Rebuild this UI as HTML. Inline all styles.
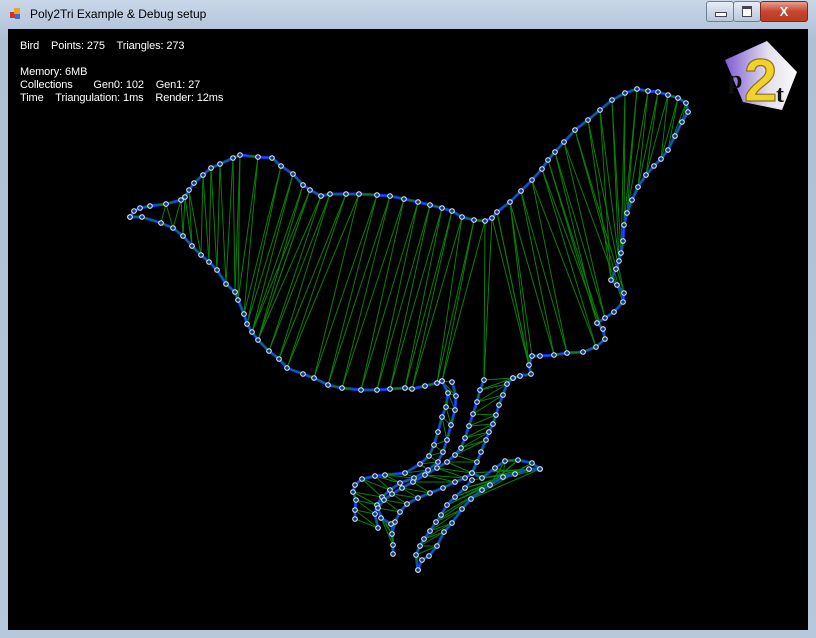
<!DOCTYPE html>
<html><head><meta charset="utf-8"><style>
html,body{margin:0;padding:0;width:816px;height:638px;overflow:hidden;background:#b9c9dd;font-family:"Liberation Sans",sans-serif}
#win{position:absolute;left:0;top:0;width:816px;height:638px;background:linear-gradient(#c9d7e8,#aebfd6 40px,#b7c7dc);}
#title{position:absolute;left:30px;top:7px;font-size:12px;color:#000}
#client{position:absolute;left:8px;top:29px;width:800px;height:601px;background:#000}
.info{position:absolute;color:#fff;font-size:11px;white-space:pre;left:12px;letter-spacing:-0.1px}
.btn{position:absolute;top:1px;height:19px;border:1px solid #6f7f94;border-radius:3px;background:linear-gradient(#e6edf6,#b9c8da)}
</style></head><body>
<div id="win">
<div style="position:absolute;left:10px;top:8px;width:11px;height:11px;"><div style="position:absolute;left:0;top:4px;width:6px;height:6px;background:#c33"></div><div style="position:absolute;left:4px;top:0;width:6px;height:6px;background:#e9a52a"></div><div style="position:absolute;left:5px;top:6px;width:5px;height:5px;background:#3a6fd0"></div></div>
<div id="title">Poly2Tri Example &amp; Debug setup</div>
<div class="btn" style="left:706px;width:26px"><div style="position:absolute;left:8px;top:10px;width:10px;height:3px;background:#fff;border:1px solid #445"></div></div>
<div class="btn" style="left:733px;width:26px"><div style="position:absolute;left:8px;top:4px;width:8px;height:7px;border:1px solid #445;border-top-width:3px;background:#fff"></div></div>
<div class="btn" style="left:760px;width:46px;background:linear-gradient(#e8a08e,#c7452f 50%,#b93a22);border-color:#7a2a20;color:#fff;font-weight:bold;font-size:13px;text-align:center;line-height:19px">X</div>
<div id="client">
<div class="info" style="top:11px">Bird    Points: 275    Triangles: 273</div>
<div class="info" style="top:37px">Memory: 6MB</div>
<div class="info" style="top:50px">Collections       Gen0: 102    Gen1: 27</div>
<div class="info" style="top:63px">Time    Triangulation: 1ms    Render: 12ms</div>
</div>
<svg id="svg" width="816" height="638" style="position:absolute;left:0;top:0">
<defs><linearGradient id="lg" x1="0" x2="1"><stop offset="0" stop-color="#7f5bd6"/><stop offset="0.6" stop-color="#e4e0ec"/><stop offset="1" stop-color="#fafafa"/></linearGradient></defs>
<g>
<polygon points="767,41 797,72 782,110 743,102 725,60" fill="url(#lg)"/>
<text x="744" y="101" font-family="Liberation Sans,sans-serif" font-size="60" font-weight="bold" fill="#f2d22a" stroke="#8a7420" stroke-width="1.2">2</text>
<text x="728" y="88" font-family="Liberation Serif,serif" font-size="26" font-weight="bold" fill="#111">p</text>
<text x="776" y="102" font-family="Liberation Serif,serif" font-size="24" font-weight="bold" fill="#111">t</text>
</g>
<g id="tri"></g><g id="out"></g><g id="pts"></g>
</svg>
</div>
<script>
const bodyTop=[[130,217],[134,211],[140,208],[150,206],[166,204],[181,200],[185,197],[189,190],[194,183],[203,175],[211,168],[220,164],[233,158],[240,155],[258,157],[272,158],[281,166],[293,174],[303,185],[310,190],[321,196],[330,194],[346,194],[359,194],[377,195],[390,196],[404,199],[418,202],[430,205],[442,208],[452,211],[462,217],[474,220],[485,221],[492,218],[497,212],[510,202],[521,191],[532,180],[542,169],[548,160],[555,152],[564,142],[575,130],[588,120],[600,110],[612,100],[625,93],[637,89],[648,91],[658,92],[668,95],[678,98],[686,103],[688,112],[682,122],[675,136],[668,150],[661,159],[654,166],[646,175],[638,187],[632,200],[627,213],[624,225],[623,241],[621,253],[619,261],[616,269],[611,280],[617,285],[624,293],[623,302],[614,312],[605,318],[597,323],[603,329],[605,339],[596,347],[583,352],[567,353],[554,355],[540,356],[532,356],[529,365],[531,374],[520,376],[513,378]];
const bodyBot=[[130,217],[142,217],[161,223],[173,228],[183,236],[192,246],[201,255],[209,262],[217,270],[226,284],[235,292],[238,300],[244,314],[247,324],[252,332],[258,340],[269,351],[279,359],[287,368],[303,374],[314,378],[328,385],[342,388],[361,390],[377,390],[390,389],[405,388],[412,389],[425,386],[437,383],[442,381]];
const legA1=[[442,381],[448,393],[446,407],[442,417],[438,432],[434,445],[429,456],[420,464],[405,473],[385,475],[375,476],[362,479],[355,485],[353,492],[356,500],[355,510],[355,519]];
const legA2=[[452,382],[456,396],[455,410],[451,425],[447,440],[443,452],[438,462],[428,470],[414,478],[400,483],[390,490],[382,497],[377,505],[375,514],[378,528]];
const legB1=[[513,378],[507,384],[503,395],[499,405],[496,415],[493,424],[489,432],[486,440],[481,452],[477,462],[472,473],[465,478],[455,482],[443,488],[430,493],[418,498],[407,504],[400,512],[395,522],[392,534],[393,545],[393,554]];
const legB2=[[484,380],[480,390],[477,402],[473,414],[469,426],[465,438],[461,448],[455,455],[447,462],[437,468],[425,475],[413,482],[402,488],[392,494],[384,500],[378,508],[381,518],[391,524]];
const legC1=[[472,473],[482,478],[495,468],[505,461],[518,460],[532,463],[540,469]];
const legC2=[[540,469],[529,469],[515,474],[503,477],[490,485],[482,490],[471,499],[462,509],[452,523],[444,532],[437,546],[429,556],[422,560],[418,570]];
const legC3=[[418,570],[416,555],[420,546],[424,539],[430,531],[436,522],[441,515],[447,505],[455,497],[465,488],[472,480]];
const svg='http://www.w3.org/2000/svg';
const T=document.getElementById('tri'),O=document.getElementById('out'),P=document.getElementById('pts');
function line(g,a,b,c,w){const l=document.createElementNS(svg,'line');


l.setAttribute('x1',a[0]);l.setAttribute('y1',a[1]);l.setAttribute('x2',b[0]);l.setAttribute('y2',b[1]);l.setAttribute('stroke',c);l.setAttribute('stroke-width',w);g.appendChild(l);}
function zig(A,B,diag){const n=Math.min(A.length,B.length);let prev=null;for(let i=0;i<n;i++){const a=A[Math.round(i*(A.length-1)/(n-1))],b=B[Math.round(i*(B.length-1)/(n-1))];line(T,a,b,'#0a800a',1);if(prev&&diag){line(T,prev,b,'#0a800a',1);}prev=a;}}
function poly(A){const p=document.createElementNS(svg,'polyline');


p.setAttribute('points',A.map(q=>q.join(',')).join(' '));p.setAttribute('fill','none');p.setAttribute('stroke','#1030ff');p.setAttribute('stroke-width','3');O.appendChild(p);
const g=document.createElementNS(svg,'polyline');


g.setAttribute('points',A.map(q=>q.join(',')).join(' '));g.setAttribute('fill','none');g.setAttribute('stroke','#0a8a0a');g.setAttribute('stroke-width','1');O.appendChild(g);
A.forEach(q=>{const c=document.createElementNS(svg,'circle');


c.setAttribute('cx',q[0]);c.setAttribute('cy',q[1]);c.setAttribute('r','2.3');c.setAttribute('fill','#0a3a80');c.setAttribute('stroke','#e8f0ff');c.setAttribute('stroke-width','1');P.appendChild(c);});}
zig(bodyTop.slice(4,20),bodyBot.slice(2,16),true);
zig(bodyTop.slice(19,37),bodyBot.slice(14,31).concat([[484,380],bodyTop[85],bodyTop[84]]),true);
zig(bodyTop.slice(36,55),bodyTop.slice(55,84).reverse(),true);
zig(legA1,legA2,true);zig(legB1,legB2,true);zig(legC2,legC3.slice().reverse(),true);zig(legC1,legC2.slice(0,7),true);
[bodyTop,bodyBot,legA1,legA2,legB1,legB2,legC1,legC2,legC3].forEach(poly);
</script>
</body></html>
